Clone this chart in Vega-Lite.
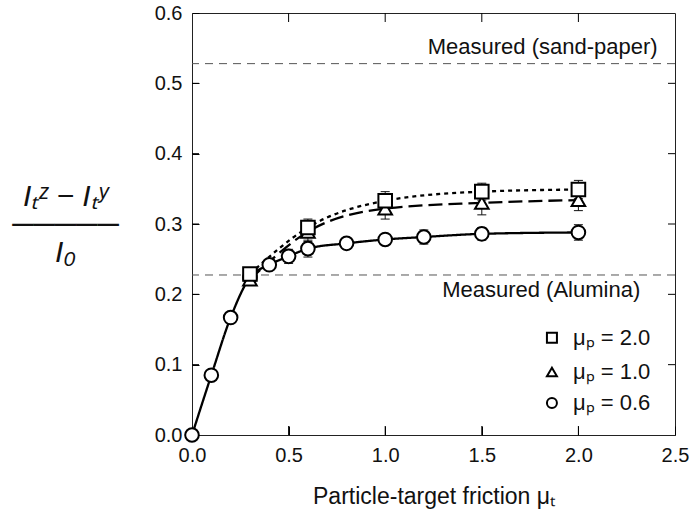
{
  "$schema": "https://vega.github.io/schema/vega-lite/v6.json",
  "width": 483,
  "height": 422,
  "autosize": {"type": "none"},
  "padding": {"left": 192, "top": 13, "right": 16, "bottom": 91},
  "background": "white",
  "config": {
    "font": "Liberation Sans",
    "view": {"stroke": "#222", "strokeWidth": 1},
    "axis": {
      "grid": false,
      "domain": false,
      "tickColor": "#000",
      "tickWidth": 1,
      "labelFlush": false,
      "labelFont": "Liberation Sans",
      "labelFontSize": 20,
      "labelColor": "#111",
      "titleFont": "Liberation Sans",
      "titleColor": "#111",
      "titleFontWeight": "normal"
    }
  },
  "datasets": {
    "pts": [
      {"mu": "0.6", "fit": "f0.6", "x": 0.0, "y": 0.0, "lo": 0.0, "hi": 0.0},
      {"mu": "0.6", "fit": "f0.6", "x": 0.1, "y": 0.085, "lo": 0.085, "hi": 0.085},
      {"mu": "0.6", "fit": "f0.6", "x": 0.2, "y": 0.167, "lo": 0.167, "hi": 0.167},
      {"mu": "0.6", "fit": "f0.6", "x": 0.3, "y": 0.224, "lo": 0.219, "hi": 0.229},
      {"mu": "0.6", "fit": "f0.6", "x": 0.4, "y": 0.242, "lo": 0.235, "hi": 0.249},
      {"mu": "0.6", "fit": "f0.6", "x": 0.5, "y": 0.254, "lo": 0.244, "hi": 0.264},
      {"mu": "0.6", "fit": "f0.6", "x": 0.6, "y": 0.265, "lo": 0.253, "hi": 0.277},
      {"mu": "0.6", "fit": "f0.6", "x": 0.8, "y": 0.2725, "lo": 0.2645, "hi": 0.2805},
      {"mu": "0.6", "fit": "f0.6", "x": 1.0, "y": 0.278, "lo": 0.271, "hi": 0.285},
      {"mu": "0.6", "fit": "f0.6", "x": 1.2, "y": 0.2815, "lo": 0.2715, "hi": 0.2915},
      {"mu": "0.6", "fit": "f0.6", "x": 1.5, "y": 0.286, "lo": 0.277, "hi": 0.295},
      {"mu": "0.6", "fit": "f0.6", "x": 2.0, "y": 0.288, "lo": 0.277, "hi": 0.299},
      {"mu": "1.0", "fit": "f1.0", "x": 0.3, "y": 0.221, "lo": 0.216, "hi": 0.226},
      {"mu": "1.0", "fit": "f1.0", "x": 0.6, "y": 0.289, "lo": 0.275, "hi": 0.303},
      {"mu": "1.0", "fit": "f1.0", "x": 1.0, "y": 0.322, "lo": 0.307, "hi": 0.337},
      {"mu": "1.0", "fit": "f1.0", "x": 1.5, "y": 0.33, "lo": 0.313, "hi": 0.347},
      {"mu": "1.0", "fit": "f1.0", "x": 2.0, "y": 0.334, "lo": 0.319, "hi": 0.349},
      {"mu": "2.0", "fit": "f2.0", "x": 0.3, "y": 0.229, "lo": 0.224, "hi": 0.234},
      {"mu": "2.0", "fit": "f2.0", "x": 0.6, "y": 0.295, "lo": 0.283, "hi": 0.307},
      {"mu": "2.0", "fit": "f2.0", "x": 1.0, "y": 0.333, "lo": 0.32, "hi": 0.346},
      {"mu": "2.0", "fit": "f2.0", "x": 1.5, "y": 0.346, "lo": 0.334, "hi": 0.358},
      {"mu": "2.0", "fit": "f2.0", "x": 2.0, "y": 0.349, "lo": 0.336, "hi": 0.362}
    ],
    "ref": [
      {"label": "Measured (sand-paper)", "x": 2.41, "y": 0.528, "pos": "above"},
      {"label": "Measured (Alumina)", "x": 2.32, "y": 0.2275, "pos": "below"}
    ],
    "leg": [
      {"mu": "2.0", "x": 1.863, "y": 0.1383, "label": "μₚ = 2.0"},
      {"mu": "1.0", "x": 1.863, "y": 0.0896, "label": "μₚ = 1.0"},
      {"mu": "0.6", "x": 1.863, "y": 0.0455, "label": "μₚ = 0.6"}
    ],
    "ticks": [
      {"side": "bottom", "x": 0.5, "y": 0.0}, {"side": "bottom", "x": 1.0, "y": 0.0}, {"side": "bottom", "x": 1.5, "y": 0.0}, {"side": "bottom", "x": 2.0, "y": 0.0},
      {"side": "top", "x": 0.5, "y": 0.6}, {"side": "top", "x": 1.0, "y": 0.6}, {"side": "top", "x": 1.5, "y": 0.6}, {"side": "top", "x": 2.0, "y": 0.6},
      {"side": "left", "x": 0.0, "y": 0.1}, {"side": "left", "x": 0.0, "y": 0.2}, {"side": "left", "x": 0.0, "y": 0.3}, {"side": "left", "x": 0.0, "y": 0.4}, {"side": "left", "x": 0.0, "y": 0.5},
      {"side": "right", "x": 2.5, "y": 0.1}, {"side": "right", "x": 2.5, "y": 0.2}, {"side": "right", "x": 2.5, "y": 0.3}, {"side": "right", "x": 2.5, "y": 0.4}, {"side": "right", "x": 2.5, "y": 0.5}
    ]
  },
  "layer": [
    {
      "data": {"name": "pts"},
      "mark": {"type": "rule", "color": "#111", "strokeWidth": 1},
      "encoding": {
        "x": {"field": "x", "type": "quantitative",
          "scale": {"domain": [0, 2.5], "nice": false},
          "axis": {"values": [0, 0.5, 1, 1.5, 2, 2.5], "format": ".1f", "offset": -9, "tickSize": 9, "labelPadding": 10,
            "title": "Particle-target friction  μₜ", "titleFontSize": 23, "titleBaseline": "alphabetic", "titleY": 77}},
        "y": {"field": "lo", "type": "quantitative",
          "scale": {"domain": [0, 0.6], "nice": false},
          "axis": {"values": [0, 0.1, 0.2, 0.3, 0.4, 0.5, 0.6], "format": ".1f", "offset": -7, "tickSize": 7, "labelPadding": 10,
            "title": ["Iₜᶻ − Iₜʸ", "─────", "I₀"], "titleAngle": 0, "titleAlign": "center", "titleBaseline": "alphabetic",
            "titleX": -134, "titleY": 192, "titleFontSize": 30, "titleFontStyle": "italic", "titleLineHeight": 28}},
        "y2": {"field": "hi"}
      }
    },
    {
      "data": {"name": "ticks"},
      "transform": [{"filter": "datum.side == 'bottom'"}],
      "mark": {"type": "point", "shape": "M0,0L0,-2", "filled": false, "stroke": "#000", "strokeWidth": 1, "size": 81, "opacity": 1},
      "encoding": {"x": {"field": "x", "type": "quantitative"}, "y": {"field": "y", "type": "quantitative"}}
    },
    {
      "data": {"name": "ticks"},
      "transform": [{"filter": "datum.side == 'top'"}],
      "mark": {"type": "point", "shape": "M0,0L0,2", "filled": false, "stroke": "#000", "strokeWidth": 1, "size": 81, "opacity": 1},
      "encoding": {"x": {"field": "x", "type": "quantitative"}, "y": {"field": "y", "type": "quantitative"}}
    },
    {
      "data": {"name": "ticks"},
      "transform": [{"filter": "datum.side == 'left'"}],
      "mark": {"type": "point", "shape": "M0,0L2,0", "filled": false, "stroke": "#000", "strokeWidth": 1, "size": 49, "opacity": 1},
      "encoding": {"x": {"field": "x", "type": "quantitative"}, "y": {"field": "y", "type": "quantitative"}}
    },
    {
      "data": {"name": "ticks"},
      "transform": [{"filter": "datum.side == 'right'"}],
      "mark": {"type": "point", "shape": "M0,0L-2,0", "filled": false, "stroke": "#000", "strokeWidth": 1, "size": 49, "opacity": 1},
      "encoding": {"x": {"field": "x", "type": "quantitative"}, "y": {"field": "y", "type": "quantitative"}}
    },
    {
      "data": {"name": "ref"},
      "mark": {"type": "rule", "strokeDash": [8, 6], "color": "#555", "strokeWidth": 1},
      "encoding": {
        "y": {"field": "y", "type": "quantitative"}
      }
    },
    {
      "data": {"name": "ref"},
      "transform": [{"filter": "datum.pos == 'above'"}],
      "mark": {"type": "text", "align": "right", "baseline": "bottom", "dy": -5, "fontSize": 22, "color": "#111"},
      "encoding": {
        "x": {"field": "x", "type": "quantitative"},
        "y": {"field": "y", "type": "quantitative"},
        "text": {"field": "label"}
      }
    },
    {
      "data": {"name": "ref"},
      "transform": [{"filter": "datum.pos == 'below'"}],
      "mark": {"type": "text", "align": "right", "baseline": "top", "dy": 5, "fontSize": 22, "color": "#111"},
      "encoding": {
        "x": {"field": "x", "type": "quantitative"},
        "y": {"field": "y", "type": "quantitative"},
        "text": {"field": "label"}
      }
    },
    {
      "data": {"name": "pts"},
      "mark": {"type": "point", "shape": "stroke", "filled": false, "stroke": "#111", "strokeWidth": 1, "size": 81, "opacity": 1},
      "encoding": {
        "x": {"field": "x", "type": "quantitative"},
        "y": {"field": "lo", "type": "quantitative"}
      }
    },
    {
      "data": {"name": "pts"},
      "mark": {"type": "point", "shape": "stroke", "filled": false, "stroke": "#111", "strokeWidth": 1, "size": 81, "opacity": 1},
      "encoding": {
        "x": {"field": "x", "type": "quantitative"},
        "y": {"field": "hi", "type": "quantitative"}
      }
    },
    {
      "data": {"name": "pts"},
      "mark": {"type": "line", "interpolate": "monotone", "color": "#000", "strokeWidth": 2.3},
      "encoding": {
        "x": {"field": "x", "type": "quantitative"},
        "y": {"field": "y", "type": "quantitative"},
        "detail": {"field": "fit"},
        "strokeDash": {"field": "fit", "type": "nominal", "legend": null,
          "scale": {"domain": ["f2.0", "f1.0", "f0.6"], "range": [[4, 4], [14, 6], [1, 0]]}}
      }
    },
    {
      "data": {"name": "pts"},
      "mark": {"type": "point", "fill": "white", "stroke": "#000", "strokeWidth": 2, "size": 185, "opacity": 1},
      "encoding": {
        "x": {"field": "x", "type": "quantitative"},
        "y": {"field": "y", "type": "quantitative"},
        "shape": {"field": "mu", "type": "nominal", "legend": null,
          "scale": {"domain": ["2.0", "1.0", "0.6"], "range": ["square", "triangle-up", "circle"]}}
      }
    },
    {
      "data": {"name": "leg"},
      "mark": {"type": "point", "fill": "white", "stroke": "#000", "strokeWidth": 2, "size": 100, "opacity": 1},
      "encoding": {
        "x": {"field": "x", "type": "quantitative"},
        "y": {"field": "y", "type": "quantitative"},
        "shape": {"field": "mu", "type": "nominal", "legend": null}
      }
    },
    {
      "data": {"name": "leg"},
      "mark": {"type": "text", "align": "left", "baseline": "middle", "dx": 21, "fontSize": 22, "color": "#111"},
      "encoding": {
        "x": {"field": "x", "type": "quantitative"},
        "y": {"field": "y", "type": "quantitative"},
        "text": {"field": "label"}
      }
    }
  ]
}
